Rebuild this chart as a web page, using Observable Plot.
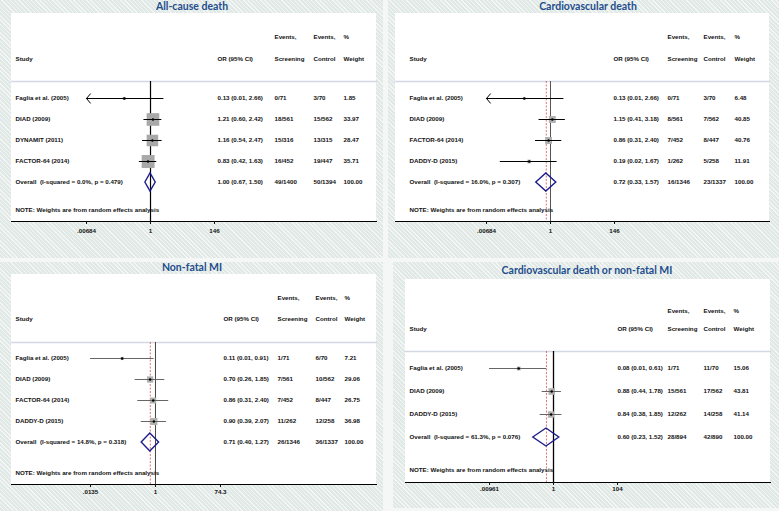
<!DOCTYPE html>
<html><head><meta charset="utf-8">
<script src="https://cdn.jsdelivr.net/npm/d3@7"></script>
<script src="https://cdn.jsdelivr.net/npm/@observablehq/plot@0.6"></script>
<style>
html,body{margin:0;padding:0;background:#f4f7f6;}
#root{position:relative;width:779px;height:511px;overflow:hidden;background:#f4f7f6;}
.bg{position:absolute;background-color:#e1e9e7;background-image:repeating-linear-gradient(45deg, rgba(255,255,255,0.6) 0 1px, transparent 1px 3px);}
.title{position:absolute;font-family:Lato, 'Open Sans', sans-serif;font-weight:700;font-size:10.5px;color:#1f4e8c;white-space:nowrap;transform:translate(-50%,-50%);}
.white{position:absolute;background:#fff;}
.chart{position:absolute;}
</style>
</head><body><div id="root"></div>
<script>
// ---------- DATA ----------
// Panel 1: All-cause death
const acdStudies = ["Faglia et al. (2005)", "DIAD (2009)", "DYNAMIT (2011)", "FACTOR-64 (2014)"];
const acdOR = [0.13, 1.21, 1.16, 0.83];
const acdLo = [0.0068, 0.60, 0.54, 0.42];
const acdHi = [2.66, 2.42, 2.47, 1.63];
const acdScrEv = [0, 18, 15, 16];
const acdScrN = [71, 561, 316, 452];
const acdCtlEv = [3, 15, 13, 19];
const acdCtlN = [70, 562, 315, 447];
const acdWeight = [1.85, 33.97, 28.47, 35.71];
const acdOverall = [1.00, 0.67, 1.50];
const acdHet = "I-squared = 0.0%, p = 0.479";
const acdTicks = [0.00684, 1, 146];
const acdTickLabels = [".00684", "1", "146"];

// Panel 2: Cardiovascular death
const cvdStudies = ["Faglia et al. (2005)", "DIAD (2009)", "FACTOR-64 (2014)", "DADDY-D (2015)"];
const cvdOR = [0.13, 1.15, 0.86, 0.19];
const cvdLo = [0.0068, 0.41, 0.31, 0.02];
const cvdHi = [2.66, 3.18, 2.40, 1.67];
const cvdScrEv = [0, 8, 7, 1];
const cvdScrN = [71, 561, 452, 262];
const cvdCtlEv = [3, 7, 8, 5];
const cvdCtlN = [70, 562, 447, 258];
const cvdWeight = [6.48, 40.85, 40.76, 11.91];
const cvdOverall = [0.72, 0.33, 1.57];
const cvdHet = "I-squared = 16.0%, p = 0.307";
const cvdTicks = [0.00684, 1, 146];
const cvdTickLabels = [".00684", "1", "146"];

// Panel 3: Non-fatal MI
const miStudies = ["Faglia et al. (2005)", "DIAD (2009)", "FACTOR-64 (2014)", "DADDY-D (2015)"];
const miOR = [0.11, 0.70, 0.86, 0.90];
const miLo = [0.0135, 0.26, 0.31, 0.39];
const miHi = [0.91, 1.85, 2.40, 2.07];
const miScrEv = [1, 7, 7, 11];
const miScrN = [71, 561, 452, 262];
const miCtlEv = [6, 10, 8, 12];
const miCtlN = [70, 562, 447, 258];
const miWeight = [7.21, 29.06, 26.75, 36.98];
const miOverall = [0.71, 0.40, 1.27];
const miHet = "I-squared = 14.8%, p = 0.318";
const miTicks = [0.0135, 1, 74.3];
const miTickLabels = [".0135", "1", "74.3"];

// Panel 4: Cardiovascular death or non-fatal MI
const cmStudies = ["Faglia et al. (2005)", "DIAD (2009)", "DADDY-D (2015)"];
const cmOR = [0.08, 0.88, 0.84];
const cmLo = [0.00961, 0.44, 0.38];
const cmHi = [0.61, 1.78, 1.85];
const cmScrEv = [1, 15, 12];
const cmScrN = [71, 561, 262];
const cmCtlEv = [11, 17, 14];
const cmCtlN = [70, 562, 258];
const cmWeight = [15.06, 43.81, 41.14];
const cmOverall = [0.60, 0.23, 1.52];
const cmHet = "I-squared = 61.3%, p = 0.076";
const cmTicks = [0.00961, 1, 104];
const cmTickLabels = [".00961", "1", "104"];

const panelTitles = ["All-cause death", "Cardiovascular death", "Non-fatal MI", "Cardiovascular death or non-fatal MI"];
const headerRow1 = ["Events,", "Events,", "%"];
const headerRow2 = ["Study", "OR (95% CI)", "Screening", "Control", "Weight"];
const noteText = "NOTE: Weights are from random effects analysis";

// ---------- LAYOUT ----------
const root = document.getElementById("root");
const bgs = [[0,0,383,258],[388,0,391,258],[0,262,383,249],[393,262,386,246]];
bgs.forEach(([l,t,w,h]) => {
  const d = document.createElement("div"); d.className = "bg";
  Object.assign(d.style, {left:l+"px", top:t+"px", width:w+"px", height:h+"px"});
  root.appendChild(d);
});

const panels = [
  {title: panelTitles[0], studies: acdStudies, or: acdOR, lo: acdLo, hi: acdHi, scrEv: acdScrEv, scrN: acdScrN, ctlEv: acdCtlEv, ctlN: acdCtlN, weight: acdWeight, overall: acdOverall, het: acdHet, ticks: acdTicks, tickLabels: acdTickLabels},
  {title: panelTitles[1], studies: cvdStudies, or: cvdOR, lo: cvdLo, hi: cvdHi, scrEv: cvdScrEv, scrN: cvdScrN, ctlEv: cvdCtlEv, ctlN: cvdCtlN, weight: cvdWeight, overall: cvdOverall, het: cvdHet, ticks: cvdTicks, tickLabels: cvdTickLabels},
  {title: panelTitles[2], studies: miStudies, or: miOR, lo: miLo, hi: miHi, scrEv: miScrEv, scrN: miScrN, ctlEv: miCtlEv, ctlN: miCtlN, weight: miWeight, overall: miOverall, het: miHet, ticks: miTicks, tickLabels: miTickLabels},
  {title: panelTitles[3], studies: cmStudies, or: cmOR, lo: cmLo, hi: cmHi, scrEv: cmScrEv, scrN: cmScrN, ctlEv: cmCtlEv, ctlN: cmCtlN, weight: cmWeight, overall: cmOverall, het: cmHet, ticks: cmTicks, tickLabels: cmTickLabels}
];

const layouts = [
  {left: 11, top: 13, width: 365, axisY: 221, titleX: 192, titleY: 6, marginTop: 68, insetTop: 17, insetBottom: 39, h1: -47, h2: -25, noteDy: -10, tickDy: 11,
   xRange: [75, 203], cols: [4, 206, 263, 302, 332], boxR: 7.3, boxFill: "#a8a8a8", ciColor: "#000", nullColor: "#000", nullW: 1.2},
  {left: 395, top: 13, width: 374, axisY: 221, titleX: 588, titleY: 6, marginTop: 68, insetTop: 17, insetBottom: 39, h1: -47, h2: -25, noteDy: -10, tickDy: 11,
   xRange: [91, 219], cols: [14, 218, 272, 308, 339], boxR: 3.9, boxFill: "#b0b0b0", ciColor: "#000", nullColor: "#555", nullW: 1},
  {left: 11, top: 274, width: 365, axisY: 484, titleX: 192, titleY: 267, marginTop: 68, insetTop: 16, insetBottom: 42, h1: -47, h2: -26, noteDy: -10, tickDy: 9,
   xRange: [79, 209], cols: [4, 212, 266, 304, 333], boxR: 4, boxFill: "#b0b0b0", ciColor: "#666", nullColor: "#444", nullW: 1},
  {left: 405, top: 279, width: 365, axisY: 482, titleX: 587, titleY: 270, marginTop: 72, insetTop: 17, insetBottom: 45, h1: -43, h2: -25, noteDy: -11, tickDy: 8,
   xRange: [84, 212], cols: [4, 212, 262, 298, 328], boxR: 3.7, boxFill: "#b0b0b0", ciColor: "#666", nullColor: "#000", nullW: 1.3}
];

const f2 = d3.format(".2f");

function drawPanel(d, L) {
  const t = document.createElement("div"); t.className = "title"; t.textContent = d.title;
  Object.assign(t.style, {left: L.titleX + "px", top: L.titleY + "px"});
  root.appendChild(t);

  const w = document.createElement("div"); w.className = "white";
  Object.assign(w.style, {left: L.left + "px", top: L.top + "px", width: L.width + "px", height: (L.axisY - L.top) + "px"});
  root.appendChild(w);

  const rows = d.studies.map((s, i) => ({
    key: s, text: s, est: d.or[i], lo: d.lo[i], hi: d.hi[i],
    scr: `${d.scrEv[i]}/${d.scrN[i]}`, ctl: `${d.ctlEv[i]}/${d.ctlN[i]}`, w: d.weight[i]
  }));
  const ov = {
    key: "Overall", text: `Overall\u00a0\u00a0(${d.het})`, est: d.overall[0], lo: d.overall[1], hi: d.overall[2],
    scr: `${d3.sum(d.scrEv)}/${d3.sum(d.scrN)}`, ctl: `${d3.sum(d.ctlEv)}/${d3.sum(d.ctlN)}`, w: Math.round(d3.sum(d.weight))
  };
  const all = [...rows, ov];
  const clipped = rows.filter(r => r.lo < d.ticks[0]);
  const ticks = d.ticks.map((v, i) => ({v, label: d.tickLabels[i]}));
  const C = L.cols;
  const height = (L.axisY - L.top) + 20;

  const diamond = (index, scales) => {
    const x = scales.x, y = scales.y;
    const yy = y("Overall"), h = 9;
    const pts = [[x(ov.lo), yy], [x(ov.est), yy - h], [x(ov.hi), yy], [x(ov.est), yy + h]];
    return d3.create("svg:path").attr("d", "M" + pts.map(p => p.join(",")).join("L") + "Z")
      .attr("fill", "none").attr("stroke", "#1c1c8c").attr("stroke-width", 1.4).node();
  };

  const txt = (field, col) => Plot.text(all, {y: "key", text: field, frameAnchor: "left", dx: C[col], textAnchor: "start"});

  const chart = Plot.plot({
    width: L.width, height,
    marginLeft: 0, marginRight: 0, marginTop: L.marginTop, marginBottom: height - (L.axisY - L.top),
    style: {fontFamily: "'Liberation Sans', Arial, sans-serif", fontSize: "6.2px", fontWeight: "bold", background: "transparent", overflow: "visible", color: "#111"},
    x: {type: "log", domain: [d.ticks[0], d.ticks[2]], range: L.xRange, clamp: true},
    y: {type: "point", domain: all.map(r => r.key), padding: 0, insetTop: L.insetTop, insetBottom: L.insetBottom, axis: null},
    r: {type: "sqrt", domain: [0, d3.max(d.weight)], range: [0, L.boxR]},
    marks: [
      Plot.frame({anchor: "top", stroke: "#d3d8e3", strokeWidth: 1.6}),
      Plot.ruleX([ov.est], {stroke: "#d9534f", strokeWidth: 0.8, strokeDasharray: "2,1.5"}),
      Plot.ruleX([1], {stroke: L.nullColor, strokeWidth: L.nullW}),
      Plot.dot(rows, {x: "est", y: "key", r: "w", symbol: "square", fill: L.boxFill, stroke: "none"}),
      Plot.ruleY(rows, {y: "key", x1: "lo", x2: "hi", stroke: L.ciColor, strokeWidth: 1}),
      Plot.arrow(clipped, {x1: "hi", x2: "lo", y1: "key", y2: "key", stroke: L.ciColor, strokeWidth: 1, headLength: 9, headAngle: 100}),
      Plot.dot(rows, {x: "est", y: "key", r: 1.2, fill: "#000"}),
      diamond,
      txt("text", 0),
      txt(r => `${f2(r.est)} (${f2(r.lo)}, ${f2(r.hi)})`, 1),
      txt("scr", 2),
      txt("ctl", 3),
      txt(r => f2(r.w), 4),
      Plot.text([headerRow1[0]], {frameAnchor: "top-left", dx: C[2], dy: L.h1, textAnchor: "start"}),
      Plot.text([headerRow1[1]], {frameAnchor: "top-left", dx: C[3], dy: L.h1, textAnchor: "start"}),
      Plot.text([headerRow1[2]], {frameAnchor: "top-left", dx: C[4], dy: L.h1, textAnchor: "start"}),
      ...headerRow2.map((h, i) => Plot.text([h], {frameAnchor: "top-left", dx: C[i], dy: L.h2, textAnchor: "start"})),
      Plot.text([noteText], {frameAnchor: "bottom-left", dx: C[0], dy: L.noteDy, textAnchor: "start"}),
      Plot.frame({anchor: "bottom", stroke: "#000", strokeWidth: 1}),
      Plot.axisX({ticks: d.ticks, tickFormat: () => "", tickSize: 3, label: null}),
      Plot.text(ticks, {x: "v", text: "label", frameAnchor: "bottom", dy: L.tickDy})
    ]
  });
  chart.classList.add("chart");
  Object.assign(chart.style, {left: L.left + "px", top: L.top + "px", position: "absolute"});
  root.appendChild(chart);
}

panels.forEach((p, i) => drawPanel(p, layouts[i]));
</script>
</body></html>
